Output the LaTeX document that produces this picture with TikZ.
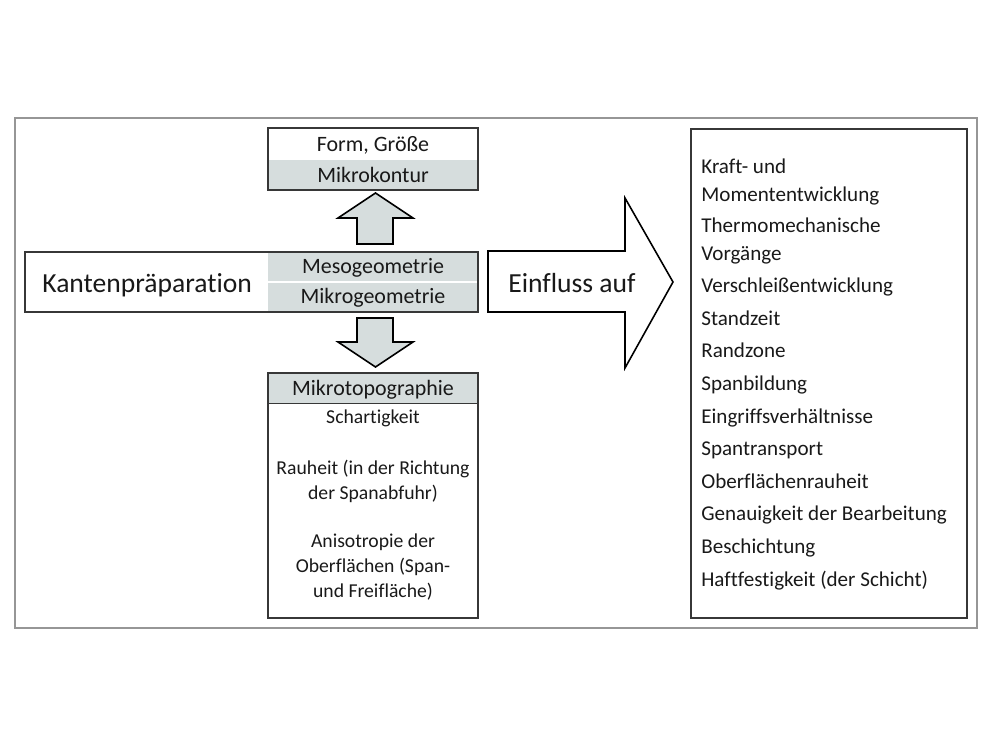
\documentclass[tikz,border=0pt]{standalone}
\usepackage{fontspec}
\setmainfont{Carlito}[Ligatures=NoCommon]
\definecolor{panelgrey}{RGB}{214,221,221}
\definecolor{framegrey}{RGB}{150,150,150}
\definecolor{edgegrey}{RGB}{55,55,55}
\definecolor{inkgrey}{RGB}{25,25,25}

\begin{document}
\begin{tikzpicture}[x=0.02cm, y=-0.02cm, text=inkgrey,
  txt/.style={font=\fontsize{12.5}{15}\selectfont, inner sep=0pt, anchor=base},
  sub/.style={font=\fontsize{11.2}{13}\selectfont, inner sep=0pt, anchor=base},
  big/.style={font=\fontsize{15.7}{18}\selectfont, inner sep=0pt, anchor=base west},
  item/.style={font=\fontsize{12}{14}\selectfont, inner sep=0pt, anchor=base west},
  boxline/.style={draw=edgegrey, line width=0.8pt},
  blockarrow/.style={draw=black, line width=0.9pt, line join=miter}]
  \useasboundingbox (0,0) rectangle (1000,750);
  % ---------------------------------------------------------------- the frame
  \draw[framegrey, line width=1.1pt] (15,118) rectangle (977,628);
  % ---------------------------------------------------------------- the edge, its geometry
  % upper box: shape and size, white over grey
  \fill[panelgrey] (268,160) rectangle (478,190);
  \draw[boxline] (268,128) rectangle (478,190);
  \node[txt] (form) at (373,152) {Form, Größe};
  \node[txt] (kontur) at (373,182) {Mikrokontur};
  % the main bar, grey on its right part
  \fill[panelgrey] (268,252) rectangle (478,312);
  \draw[white, line width=1pt] (268,282) -- (478,282);
  \draw[boxline] (25,252) rectangle (478,312);
  \node[big] (kante) at (42,292) {Kantenpräparation};
  \node[txt] (meso) at (373,273) {Mesogeometrie};
  \node[txt] (mikro) at (373,303) {Mikrogeometrie};
  % lower box: the topography
  \fill[panelgrey] (268,373) rectangle (478,403);
  \draw[edgegrey, line width=0.5pt] (268,403) -- (478,403);
  \draw[boxline] (268,373) rectangle (478,618);
  \node[txt] (topo) at (373,395) {Mikrotopographie};
  \node[sub] (schart) at (373,423) {Schartigkeit};
  \node[sub] (rau1) at (373,474) {Rauheit (in der Richtung};
  \node[sub] (rau2) at (373,499) {der Spanabfuhr)};
  \node[sub] (aniso1) at (373,547) {Anisotropie der};
  \node[sub] (aniso2) at (373,572) {Oberflächen (Span-};
  \node[sub] (aniso3) at (373,597) {und Freifläche)};
  % block arrows up and down
  \draw[blockarrow, fill=panelgrey] (357,244) -- (393,244) -- (393,218) -- (413,218)
    -- (375.5,193) -- (338,218) -- (357,218) -- cycle;
  \draw[blockarrow, fill=panelgrey] (357,318) -- (393,318) -- (393,342) -- (413,342)
    -- (375.5,367) -- (338,342) -- (357,342) -- cycle;
  % ---------------------------------------------------------------- the influence
  \draw[blockarrow, fill=white] (488,251) -- (625,251) -- (625,198) -- (673,282)
    -- (625,368) -- (625,312) -- (488,312) -- cycle;
  \node[big] (einfluss) at (508,292) {Einfluss auf};
  % the list of what it acts on
  \draw[edgegrey, line width=0.9pt] (691,129) rectangle (967,618);
  \foreach \y/\t [count=\i] in {173/Kraft- und, 201/Momententwicklung,
      232/Thermomechanische, 260/Vorgänge, 292.6/Verschleißentwicklung,
      325.2/Standzeit, 357.8/Randzone, 390.4/Spanbildung,
      423/Eingriffsverhältnisse, 455.6/Spantransport, 488.2/Oberflächenrauheit,
      520.8/Genauigkeit der Bearbeitung, 553.4/Beschichtung,
      586/Haftfestigkeit (der Schicht)}
    \node[item] (inf\i) at (701,\y) {\t};
\end{tikzpicture}
\end{document}
